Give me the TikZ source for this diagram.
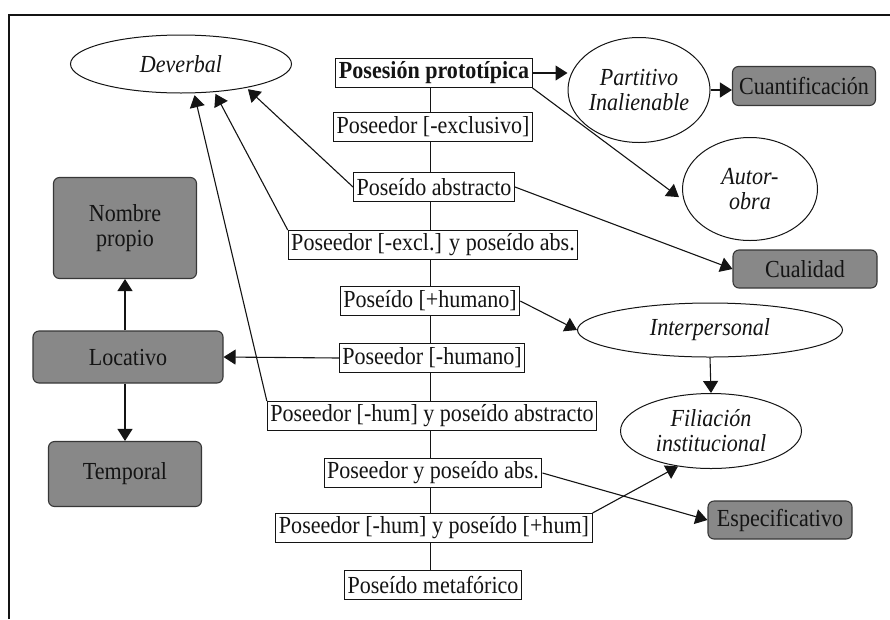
\documentclass[tikz,border=0pt]{standalone}
\usepackage{fontspec}
\setmainfont{Liberation Serif}[FakeStretch=0.9]
\usetikzlibrary{arrows.meta,shapes.geometric,backgrounds}
\definecolor{boxgray}{RGB}{136,136,136}
\definecolor{ink}{RGB}{20,20,20}
\begin{document}
\begin{tikzpicture}[x=1pt,y=-1pt,
  every node/.style={font=\fontsize{24.5}{25}\selectfont, text=ink},
  label box/.style={draw=ink, fill=white, line width=1pt, inner xsep=3pt, inner ysep=0pt, minimum height=29pt},
  class box/.style={draw=ink!85, fill=boxgray, line width=1.1pt, rounded corners=6pt, align=center, inner sep=0pt},
  sense/.style={ellipse, draw=ink, fill=white, line width=1pt, inner sep=0pt, align=center, font=\fontsize{24.5}{25}\selectfont\itshape},
  link/.style={draw=ink, line width=1.1pt, -{Triangle[length=12pt,width=15pt]}},
]
\useasboundingbox (0,0) rectangle (890,619);
% open frame
\draw[line width=2pt, ink] (9,619) -- (9,15) -- (890,15);

% central chain of possession types
\node[label box, font=\fontsize{24.5}{25}\selectfont\bfseries] (pp) at (434,73) {Posesión prototípica};
\node[label box] (b1) at (433,127) {Poseedor [-exclusivo]};
\node[label box] (b2) at (434,187) {Poseído abstracto};
\node[label box] (b3) at (433,245) {Poseedor [-excl.] y poseído abs.};
\node[label box] (b4) at (430,301) {Poseído [+humano]};
\node[label box] (b5) at (432,358) {Poseedor [-humano]};
\node[label box] (b6) at (432,416) {Poseedor [-hum] y poseído abstracto};
\node[label box] (b7) at (433,473) {Poseedor y poseído abs.};
\node[label box] (b8) at (434,528) {Poseedor [-hum] y poseído [+hum]};
\node[label box] (b9) at (433,585) {Poseído metafórico};

% grey categories
\node[class box, minimum width=143pt, minimum height=101pt] (np) at (125,228) {Nombre\\propio};
\node[class box, minimum width=190pt, minimum height=52pt] (lo) at (128,357) {Locativo};
\node[class box, minimum width=153pt, minimum height=65pt] (te) at (125,474) {Temporal};
\node[class box, minimum width=143pt, minimum height=39pt] (cu) at (804,86) {Cuantificación};
\node[class box, minimum width=144pt, minimum height=38pt] (cl) at (805,269) {Cualidad};
\node[class box, minimum width=144pt, minimum height=38pt] (es) at (780,520) {Especificativo};

% italic senses
\node[sense, minimum width=221pt, minimum height=58pt] (dv) at (181,64) {Deverbal};
\node[sense, minimum width=142pt, minimum height=105pt] (pi) at (639,90) {Partitivo\\Inalienable};
\node[sense, minimum width=135pt, minimum height=103pt] (ao) at (750,189) {Autor-\\obra};
\node[sense, minimum width=265pt, minimum height=54pt] (ip) at (710,330) {Interpersonal};
\node[sense, minimum width=181pt, minimum height=75pt] (fi) at (711,431) {Filiación\\institucional};

\begin{scope}[on background layer]
  \draw[ink, line width=1pt] (b4.center |- pp.center) -- (b4.center |- b9.center);
\end{scope}

% connectors
\draw[link] (pp.east) -- (pi.west |- pp.east);
\draw[link] (pi.east) -- (pi.east -| cu.west);
\draw[link, shorten >=6pt] (pp.south east) -- (ao.190);
\draw[link, shorten >=2pt] (b2.west) -- (dv.340);
\draw[link, shorten >=2pt] (b3.north west) -- (dv.320);
\draw[link, shorten >=2pt] (b6.north west) -- (dv.294);
\draw[link] (b2.east) -- (cl.west);
\draw[link] (b4.east) -- (ip.west);
\draw[link] (b5.west) -- (lo.east);
\draw[link] (lo.north -| np.south) -- (np.south);
\draw[link] (te.north |- lo.south) -- (te.north);
\draw[link] (ip.south) -- (fi.north);
\draw[link] (b8.north east) -- (fi.227);
\draw[link] (b7.east) -- (es.west);
\end{tikzpicture}
\end{document}
